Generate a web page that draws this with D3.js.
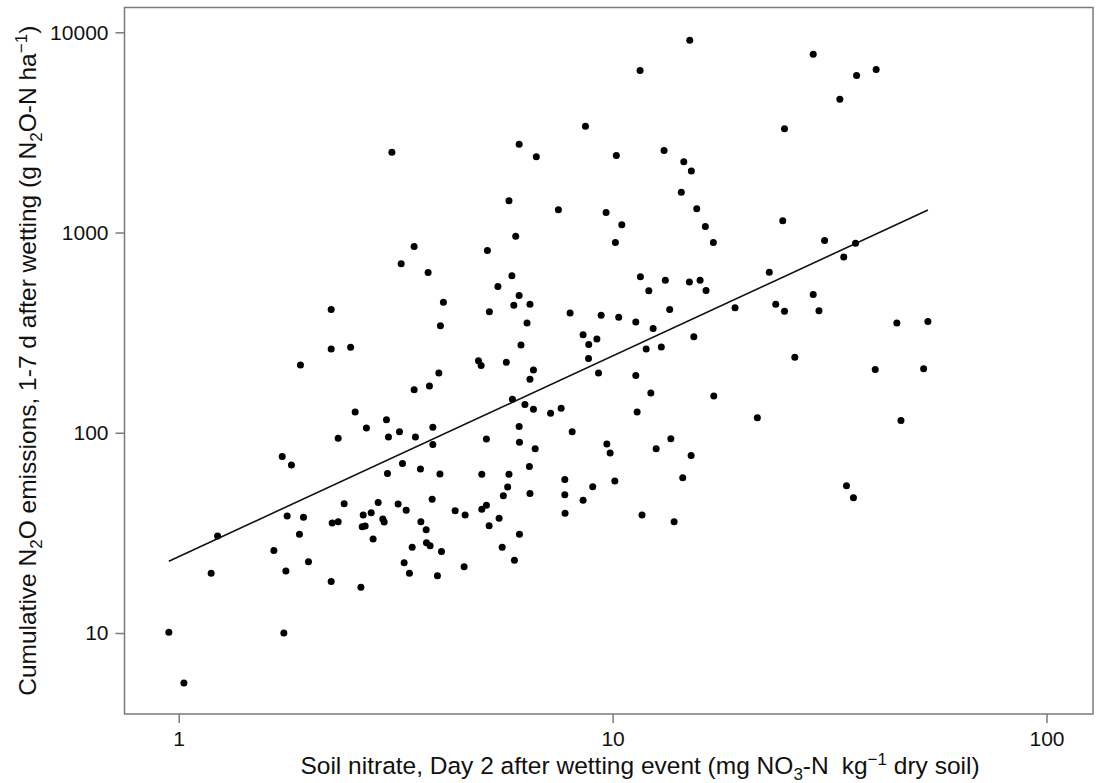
<!DOCTYPE html>
<html>
<head>
<meta charset="utf-8">
<script src="https://cdn.jsdelivr.net/npm/d3@7"></script>
<style>
  html, body { margin: 0; padding: 0; background: #fff; }
  svg { display: block; }
  text { font-family: "Liberation Sans", Arial, sans-serif; fill: #111; }
</style>
</head>
<body>
<svg id="chart" width="1103" height="783"></svg>
<script>
// Soil nitrate on day 2 after wetting (mg NO3-N per kg dry soil)
const nitrate = [
  3.10, 6.09, 6.67, 5.77, 5.98, 15.06, 11.57, 29.0, 36.5, 40.5,
  33.4, 8.66, 24.9, 10.2, 13.14, 14.59, 15.19, 14.40, 7.50, 9.66,
  10.50, 15.63, 16.36, 24.67, 2.246, 2.246, 2.49, 1.908, 2.331, 1.732,
  1.819, 3.488, 3.256, 3.757, 5.146, 5.86, 5.44, 6.09, 5.92, 6.45,
  5.20, 4.075, 4.01, 6.35, 6.15, 4.907, 4.977, 5.69, 6.57, 6.45,
  3.977, 3.783, 3.488, 2.551, 3.012, 2.708, 3.227, 3.044, 3.512, 3.852,
  3.852, 5.876, 6.28, 6.57, 7.196, 5.119, 6.09, 6.10, 6.63, 3.279,
  3.607, 6.43, 3.028, 10.15, 17.07, 11.59, 13.23, 12.12, 15.03, 15.91,
  16.42, 7.98, 9.41, 10.33, 11.31, 13.54, 19.15, 12.40, 8.55, 8.81,
  9.20, 15.39, 11.95, 12.95, 8.80, 9.28, 11.31, 12.25, 17.11, 7.61,
  11.39, 8.07, 9.70, 9.87, 12.60, 13.62, 15.17, 30.8, 36.3, 34.1,
  22.97, 29.0, 23.77, 24.9, 29.9, 45.2, 53.3, 26.3, 40.3, 52.1,
  21.56, 46.2, 1.778, 1.939, 2.406, 2.258, 2.331, 1.898, 1.229, 1.657,
  1.991, 1.766, 1.188, 2.246, 0.949, 1.747, 1.028, 4.00, 4.995, 5.77,
  5.73, 5.60, 6.45, 2.882, 3.204, 3.344, 3.838, 2.662, 2.777, 2.954,
  2.975, 2.648, 2.690, 2.806, 3.615, 3.718, 4.336, 4.572, 4.995, 5.119,
  5.476, 5.193, 6.10, 3.724, 3.797, 3.452, 4.033, 5.565, 5.94, 3.308,
  3.402, 3.947, 4.548, 2.630, 7.76, 7.76, 7.77, 9.00, 8.55, 10.12,
  14.51, 11.69, 13.86, 34.6, 35.9
];

// Cumulative N2O emissions, days 1-7 after wetting (g N2O-N per ha)
const n2o = [
  2520, 2763, 2388, 1440, 959, 9130, 6448, 7777, 6085, 6522,
  4634, 3399, 3294, 2427, 2570, 2254, 2032, 1591, 1298, 1260,
  1093, 1313, 1072, 1144, 413, 262, 267, 218, 93.8, 76.2,
  69.0, 852, 698, 632, 814, 608, 538, 485, 433, 439,
  402, 449, 342, 353, 274, 229, 217, 225, 206, 185,
  199, 171, 164, 127, 116, 105.6, 101.2, 95.2, 95.2, 106.4,
  87.5, 147, 138.6, 130.9, 125, 93.0, 107.6, 89.6, 83.2, 70.2,
  65.9, 67.8, 62.6, 893, 893, 601, 577, 512, 567, 577,
  514, 396, 386, 377, 357, 413, 421, 332, 309, 276,
  294, 302, 262, 268, 235, 199, 193, 158, 152.5, 132.4,
  126.9, 101.2, 87.8, 79.2, 83.2, 93.3, 77.1, 913, 885, 754,
  634, 491, 438, 405, 407, 353, 360, 238, 207, 209,
  118.8, 115.3, 38.4, 37.9, 44.2, 35.4, 35.9, 31.1, 30.5, 25.8,
  22.7, 20.4, 19.9, 18.1, 10.1, 10.0, 5.63, 62.2, 62.0, 62.0,
  53.6, 48.5, 49.8, 44.9, 44.1, 41.0, 46.5, 38.8, 39.9, 37.1,
  35.8, 33.9, 34.2, 29.5, 35.9, 32.8, 40.8, 38.8, 41.5, 43.4,
  37.4, 34.3, 31.1, 28.2, 27.3, 26.8, 25.5, 26.8, 23.1, 22.4,
  19.9, 19.3, 21.4, 16.9, 58.5, 49.0, 39.6, 53.8, 46.0, 57.4,
  59.6, 38.8, 35.9, 54.4, 47.4
];

// Axis limits and ticks
const xDomain = [0.75, 128];
const yDomain = [3.94, 13300];
const xTicks = [1, 10, 100];
const yTicks = [10, 100, 1000, 10000];

// Log-log regression: log10(N2O) = intercept + slope * log10(nitrate)
const fitIntercept = 1.3815;
const fitSlope = 1.0023;

const W = 1103, H = 783;
const margin = { top: 7.5, right: 10, bottom: 69, left: 124.5 };
const tickFont = 21;
const titleFont = 24.5;
const axisColor = "#7a7a7a";

const svg = d3.select("#chart");

const x = d3.scaleLog().domain(xDomain).range([margin.left, W - margin.right]);
const y = d3.scaleLog().domain(yDomain).range([H - margin.bottom, margin.top]);

const points = nitrate.map((v, i) => ({ x: v, y: n2o[i] }));

// Plot frame
svg.append("rect")
  .attr("x", margin.left)
  .attr("y", margin.top)
  .attr("width", W - margin.right - margin.left)
  .attr("height", H - margin.bottom - margin.top)
  .attr("fill", "none")
  .attr("stroke", axisColor)
  .attr("stroke-width", 1.5);

// Axes
const xAxis = d3.axisBottom(x)
  .tickValues(xTicks)
  .tickFormat(d3.format("d"))
  .tickSizeInner(9)
  .tickSizeOuter(0)
  .tickPadding(8);

const yAxis = d3.axisLeft(y)
  .tickValues(yTicks)
  .tickFormat(d3.format("d"))
  .tickSizeInner(9)
  .tickSizeOuter(0)
  .tickPadding(7);

const gx = svg.append("g")
  .attr("transform", `translate(0,${H - margin.bottom})`)
  .call(xAxis);
const gy = svg.append("g")
  .attr("transform", `translate(${margin.left},0)`)
  .call(yAxis);

[gx, gy].forEach(g => {
  g.select(".domain").remove();
  g.selectAll(".tick line").attr("stroke", axisColor).attr("stroke-width", 1.5);
  g.selectAll(".tick text")
    .attr("font-family", "Liberation Sans, Arial, sans-serif")
    .attr("font-size", tickFont)
    .attr("fill", "#111");
});

// Data points
svg.append("g")
  .selectAll("circle")
  .data(points)
  .join("circle")
  .attr("cx", d => x(d.x))
  .attr("cy", d => y(d.y))
  .attr("r", 3.5)
  .attr("fill", "#000");

// Regression line across the observed nitrate range
const xr = d3.extent(nitrate);
const fitLine = xr.map(v => ({ x: v, y: Math.pow(10, fitIntercept + fitSlope * Math.log10(v)) }));
svg.append("path")
  .datum(fitLine)
  .attr("d", d3.line().x(d => x(d.x)).y(d => y(d.y)))
  .attr("fill", "none")
  .attr("stroke", "#111")
  .attr("stroke-width", 1.6);

// Text with sub- and superscripts
function richText(sel, parts, size) {
  const small = Math.round(size * 0.68);
  let shift = 0;
  parts.forEach(p => {
    const t = sel.append("tspan").text(p.t);
    let target = 0;
    if (p.sub) target = Math.round(size * 0.25);
    if (p.sup) target = -Math.round(size * 0.38);
    if (target !== shift) t.attr("dy", target - shift);
    shift = target;
    if (p.sub || p.sup) t.attr("font-size", small);
    if (p.dx) t.attr("dx", p.dx);
  });
}

// X-axis title
const xTitle = svg.append("text")
  .attr("x", 640)
  .attr("y", H - 9)
  .attr("text-anchor", "middle")
  .attr("font-size", titleFont);
richText(xTitle, [
  { t: "Soil nitrate, Day 2 after wetting event (mg NO" },
  { t: "3", sub: true },
  { t: "-N" },
  { t: "kg", dx: 13 },
  { t: "−1", sup: true },
  { t: " dry soil)" }
], titleFont);

// Y-axis title
const yTitle = svg.append("text")
  .attr("transform", `translate(36,${(margin.top + H - margin.bottom) / 2}) rotate(-90)`)
  .attr("text-anchor", "middle")
  .attr("font-size", titleFont);
richText(yTitle, [
  { t: "Cumulative N" },
  { t: "2", sub: true },
  { t: "O emissions, 1-7 d after wetting (g N" },
  { t: "2", sub: true },
  { t: "O-N ha" },
  { t: "−1", sup: true },
  { t: ")" }
], titleFont);
</script>
</body>
</html>
